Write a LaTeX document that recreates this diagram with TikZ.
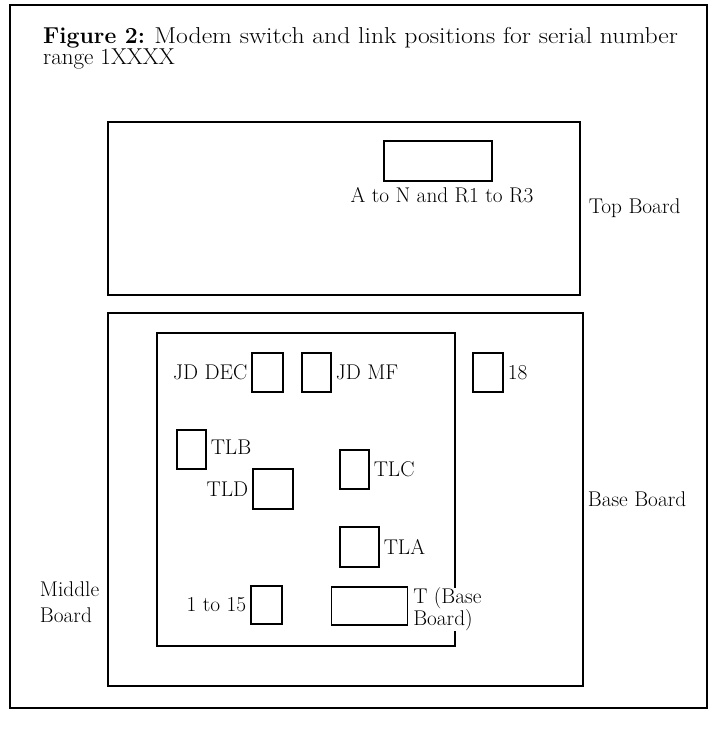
\documentclass[tikz,border=0pt]{standalone}
\usepackage{fontspec}
\usepackage{graphicx}
\begin{document}
\begin{tikzpicture}[x=1pt,y=-1pt,
  board/.style={draw, line width=1.3pt, inner sep=0pt},
  sw/.style={draw, line width=1.1pt, inner sep=0pt},
  lbl/.style={font=\fontsize{21.3}{22}\selectfont, inner sep=0pt},
]
\useasboundingbox (0,0) rectangle (715,730);
\node[board, minimum width=697pt, minimum height=703pt] (frame) at (358.5,356.5) {};
\node[anchor=north west, align=left, inner sep=0pt, font=\fontsize{23}{19}\selectfont] (title) at (43,27)
  {\textbf{Figure 2:} \scalebox{1.117}[1]{Modem switch and link positions for serial number}\\range 1XXXX};
% boards
\node[board, minimum width=472pt, minimum height=173pt] (topb) at (344,208.5) {};
\node[board, minimum width=475pt, minimum height=373pt] (baseb) at (345.5,499.5) {};
\node[board, minimum width=298pt, minimum height=313pt] (midb) at (306,489.5) {};
% switches
\node[sw, minimum width=108pt, minimum height=40pt] (topsw) at (438,161) {};
\node[sw, minimum width=31pt, minimum height=39pt] (jddec) at (267.5,372.5) {};
\node[sw, minimum width=29pt, minimum height=39pt] (jdmf) at (316.5,372.5) {};
\node[sw, minimum width=30pt, minimum height=39pt] (s18) at (488,372.5) {};
\node[sw, minimum width=29pt, minimum height=39pt] (tlb) at (191.5,449.5) {};
\node[sw, minimum width=40pt, minimum height=40pt] (tld) at (273,489) {};
\node[sw, minimum width=29pt, minimum height=39pt] (tlc) at (354.5,469.5) {};
\node[sw, minimum width=39pt, minimum height=40pt] (tla) at (359.5,547) {};
\node[sw, minimum width=31pt, minimum height=38pt] (s115) at (266.5,605) {};
\node[sw, minimum width=76pt, minimum height=38pt] (tbb) at (369.5,606) {};
% labels
\node[lbl, anchor=north] (topswl) at ([xshift=4pt,yshift=-6pt]topsw.south) {A to N and R1 to R3};
\node[lbl, anchor=west] (topbl) at ([xshift=8pt]topb.east) {Top Board};
\node[lbl, anchor=west] (basebl) at ([xshift=4pt]baseb.east) {Base Board};
\node[lbl, anchor=east, align=left, font=\fontsize{21.3}{26}\selectfont] (midbl) at ([xshift=-8pt,yshift=2.5pt]baseb.west |- s115) {Middle\\Board};
\node[lbl, anchor=east] (jddecl) at ([xshift=-4pt]jddec.west) {JD DEC};
\node[lbl, anchor=west] (jdmfl) at ([xshift=4pt]jdmf.east) {JD MF};
\node[lbl, anchor=west] (s18l) at ([xshift=4pt]s18.east) {18};
\node[lbl, anchor=west] (tlbl) at ([xshift=4pt,yshift=2pt]tlb.east) {TLB};
\node[lbl, anchor=east] (tldl) at ([xshift=-4pt]tld.west) {TLD};
\node[lbl, anchor=west] (tlcl) at ([xshift=4pt]tlc.east) {TLC};
\node[lbl, anchor=west] (tlal) at ([xshift=4pt]tla.east) {TLA};
\node[lbl, anchor=east] (s115l) at ([xshift=-4pt]s115.west) {1 to 15};
\node[lbl, anchor=north west, align=left, fill=white] (tbbl) at ([xshift=5pt,yshift=-1pt]tbb.north east) {T (Base\\Board)};
\end{tikzpicture}
\end{document}
